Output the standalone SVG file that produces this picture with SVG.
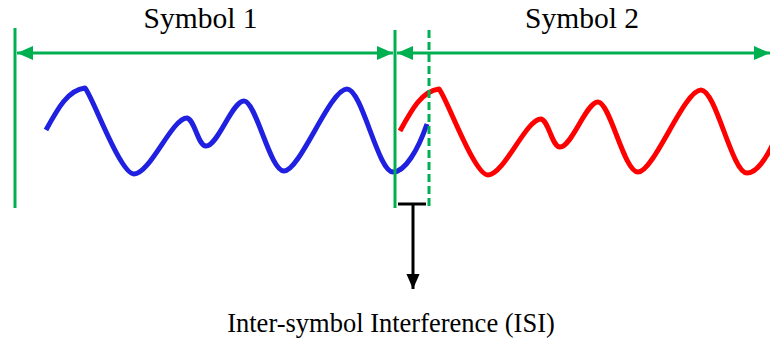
<svg xmlns="http://www.w3.org/2000/svg" width="770" height="339" viewBox="0 0 770 339">
<style>
.lbl{font-family:"Liberation Serif","Times New Roman",serif;fill:#000;text-anchor:middle}
.g{stroke:#00b050;stroke-width:3;fill:none}
.wave{fill:none;stroke-width:5;stroke-linecap:butt;stroke-linejoin:round}
</style>
<defs>
<marker id="ga" viewBox="0 0 16 14" refX="16" refY="7" markerWidth="16" markerHeight="14" markerUnits="userSpaceOnUse" orient="auto-start-reverse">
<path d="M0,0 L16,7 L0,14 Z" fill="#00b050"/>
</marker>
<marker id="ka" viewBox="0 0 16 14" refX="16" refY="7" markerWidth="15" markerHeight="14" markerUnits="userSpaceOnUse" orient="auto">
<path d="M0,0 L16,7 L0,14 Z" fill="#000"/>
</marker>
<path id="w" d="M46,130 C58,108 68,90 85,88 C92,95 120,174 134,174 C150,174 172,118 187,118 C195,120 198,146 206,146 C218,146 232,101 244,101 C256,101 270,171 284,171 C300,171 330,89 347,89 C362,89 378,172 393,172 C405,172 418,150 427,124"/>
</defs>
<g id="waves">
<use href="#w" class="wave" stroke="#2020e0"/>
<path class="wave" stroke="#ff0000" transform="translate(354,1)" d="M46,130 C58,108 68,90 85,88 C92,95 120,174 134,174 C150,174 172,118 187,118 C195,120 198,146 206,146 C218,146 232,101 244,101 C256,101 270,171 284,171 C300,171 330,89 347,89 C362,89 378,172 393,172 C405,172 418,150 430,115"/>
</g>
<g id="connectors">
<line class="g" x1="15" y1="28" x2="15" y2="208"/>
<line class="g" x1="395" y1="30" x2="395" y2="208"/>
<line class="g" x1="429" y1="30" x2="429" y2="208" stroke-dasharray="8,4"/>
<line class="g" x1="17" y1="53" x2="393" y2="53" marker-start="url(#ga)" marker-end="url(#ga)"/>
<line class="g" x1="397" y1="53" x2="770" y2="53" marker-start="url(#ga)" marker-end="url(#ga)"/>
<line x1="398" y1="204" x2="426" y2="204" stroke="#000" stroke-width="3"/>
<line x1="413" y1="204" x2="413" y2="289" stroke="#000" stroke-width="3" marker-end="url(#ka)"/>
</g>
<g id="symbol1"><text class="lbl" x="200.5" y="27.5" font-size="29.5">Symbol 1</text></g>
<g id="symbol2"><text class="lbl" x="582" y="27.5" font-size="29.5">Symbol 2</text></g>
<g id="isi"><text class="lbl" x="391" y="331.5" font-size="26.5">Inter-symbol Interference (ISI)</text></g>
</svg>
